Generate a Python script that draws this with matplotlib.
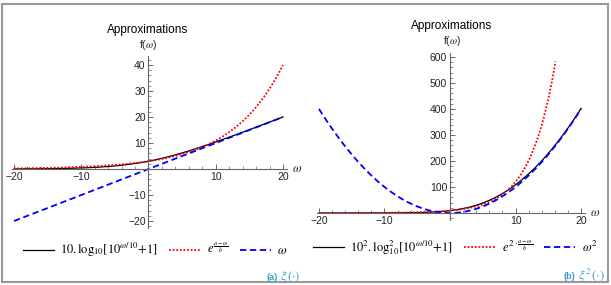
import numpy as np
import matplotlib
matplotlib.use("Agg")
import matplotlib.pyplot as plt
from matplotlib.patches import Rectangle
from matplotlib.ticker import MultipleLocator

plt.rcParams['font.family'] = ['Liberation Sans', 'DejaVu Sans']
plt.rcParams['mathtext.fontset'] = 'stix'

# parameters of the exponential approximation
a = 8.48
b = 7.72
omega = np.linspace(-20, 20, 801)

xi_exact = 10 * np.log10(10 ** (omega / 10) + 1)
xi_exp = np.exp((a + omega) / b)
xi_lin = omega

red_cap = 585  # red curve of panel (b) leaves the plot range here

x_ticks = [-20, -10, 10, 20]
y_ticks_a = [-20, -10, 10, 20, 30, 40]
y_ticks_b = [100, 200, 300, 400, 500, 600]

labels_a = [r'$10.\mathrm{log}_{10}[10^{\omega/10}{+}1]$',
            r'$e^{\frac{a-\omega}{b}}$',
            r'$\omega$']
labels_b = [r'$10^2.\mathrm{log}_{10}^2[10^{\omega/10}{+}1]$',
            r'$e^{2\cdot\frac{a-\omega}{b}}$',
            r'$\omega^2$']

W, H = 611, 285
fig = plt.figure(figsize=(W / 100, H / 100), dpi=100)
fig.patch.set_facecolor('white')


def px_axes(x0, x1, y0, y1):
    # y0 = top pixel, y1 = bottom pixel
    return fig.add_axes([x0 / W, 1 - y1 / H, (x1 - x0) / W, (y1 - y0) / H])


def style(ax, xlim, ylim, yticks, yminor):
    ax.set_xlim(*xlim)
    ax.set_ylim(*ylim)
    for s in ['top', 'right']:
        ax.spines[s].set_visible(False)
    for s in ['left', 'bottom']:
        ax.spines[s].set_position('zero')
        ax.spines[s].set_color('#666666')
        ax.spines[s].set_linewidth(0.8)
    ax.set_xticks(x_ticks)
    ax.set_yticks(yticks)
    ax.xaxis.set_minor_locator(MultipleLocator(2))
    ax.yaxis.set_minor_locator(MultipleLocator(yminor))
    ax.tick_params(which='both', direction='in', colors='#666666',
                   labelcolor='#222222', labelsize=7.5, pad=2)
    ax.tick_params(which='major', length=3.5, width=0.7)
    ax.tick_params(which='minor', length=2, width=0.5)
    ax.patch.set_alpha(0)


def caption(x, y, tag, sym):
    cap = '#3a9bd0'
    t = fig.text(x / W, 1 - y / H, sym, fontsize=9,
                 color=cap, ha='right', va='center')
    # bold tag placed just left of the symbol
    fig.add_artist(plt.Annotation(tag, xy=(0, 0.45), xycoords=t,
                                  xytext=(-2, 0), textcoords='offset points',
                                  fontsize=6.5, color=cap, fontweight='bold',
                                  ha='right', va='center'))


leg_kw = dict(loc='center', ncol=3, frameon=False, fontsize=9,
              handlelength=2.5, columnspacing=0.9, handletextpad=0.5)

# panel (a)
ax1 = px_axes(12, 287, 56, 227.5)
style(ax1, (-20.3, 20.6), (-22.5, 43.5), y_ticks_a, 2)
l1, = ax1.plot(omega, xi_exact, color='black', lw=0.9)
l2, = ax1.plot(omega, xi_exp, color='red', lw=1.3, ls=(0, (1, 1)))
l3, = ax1.plot(omega, xi_lin, color='blue', lw=1.3, ls=(0, (3.5, 2)))
ax1.text(1.02, 22.5 / 66, r'$\omega$', transform=ax1.transAxes,
         fontsize=9, va='center', ha='left', color='#222222')
fig.text(148 / W, 1 - 45 / H, r'f($\omega$)', fontsize=7.5,
         ha='center', va='center', color='#222222')
fig.text(148 / W, 1 - 30 / H, 'Approximations', fontsize=8.5,
         ha='center', va='center', color='black')

# panel (b)
ax2 = px_axes(317, 585, 53, 220)
style(ax2, (-20.3, 20.6), (-27, 615), y_ticks_b, 20)
red_b = np.where(xi_exp ** 2 <= red_cap, xi_exp ** 2, np.nan)
m1, = ax2.plot(omega, xi_exact ** 2, color='black', lw=0.9)
m2, = ax2.plot(omega, red_b, color='red', lw=1.3, ls=(0, (1, 1)))
m3, = ax2.plot(omega, xi_lin ** 2, color='blue', lw=1.3, ls=(0, (3.5, 2)))
ax2.text(1.02, 27 / 642, r'$\omega$', transform=ax2.transAxes,
         fontsize=9, va='center', ha='left', color='#222222')
fig.text(452 / W, 1 - 41 / H, r'f($\omega$)', fontsize=7.5,
         ha='center', va='center', color='#222222')
fig.text(452 / W, 1 - 26 / H, 'Approximations', fontsize=8.5,
         ha='center', va='center', color='black')

# legends
fig.legend([l1, l2, l3], labels_a, bbox_to_anchor=(155 / W, 1 - 250 / H),
           **leg_kw)
fig.legend([m1, m2, m3], labels_b, bbox_to_anchor=(455 / W, 1 - 248 / H),
           **leg_kw)

# captions
caption(301, 277, '(a)', r'$\xi\,(\cdot)$')
caption(605, 276, '(b)', r'$\xi^2\,(\cdot)$')

# outer frame
fig.add_artist(Rectangle((2 / W, 1 - 282 / H), 606 / W, 278 / H,
                         transform=fig.transFigure, fill=False,
                         edgecolor='#999999', lw=1.5))

fig.savefig('out.png', dpi=100)
